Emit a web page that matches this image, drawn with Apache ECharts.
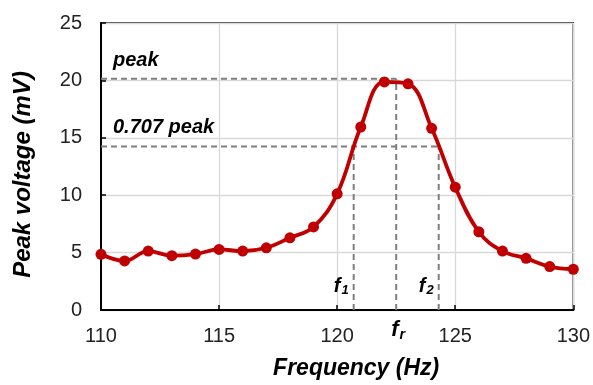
<!DOCTYPE html>
<html>
<head>
<meta charset="utf-8">
<script src="https://cdn.jsdelivr.net/npm/echarts@6/dist/echarts.min.js"></script>
<style>
  html, body { margin: 0; padding: 0; background: #fff; }
  #chart { width: 593px; height: 385px; }
</style>
</head>
<body>
<div id="chart"></div>
<script>
// measured frequency sweep
const freqs = [110, 111, 112, 113, 114, 115, 116, 117, 118, 119, 120,
               121, 122, 123, 124, 125, 126, 127, 128, 129, 130]
const volts = [4.85, 4.27, 5.13, 4.73, 4.87, 5.28, 5.13, 5.42, 6.29, 7.24, 10.12,
               15.94, 19.87, 19.70, 15.83, 10.70, 6.81, 5.13, 4.50, 3.78, 3.55]

// resonance markers
const peakV = 20.15
const halfV = 14.25   // 0.707 * peak
const fR = 122.5
const f1 = 120.7
const f2 = 124.3

const xMin = 110, xMax = 130
const yMin = 0, yMax = 25

const font = '"Liberation Sans", Arial, sans-serif'
const boldItalic = { fontFamily: font, fontWeight: 'bold', fontStyle: 'italic', color: '#000' }

const chart = echarts.init(document.getElementById('chart'), null, { renderer: 'canvas' })

function subLabel(main, sub, size) {
  return {
    show: true,
    formatter: `{m|${main}}{s|${sub}}`,
    rich: {
      m: { ...boldItalic, fontSize: size, lineHeight: size + 2 },
      s: { ...boldItalic, fontSize: size * 0.65, verticalAlign: 'bottom', padding: [size * 0.45, 0, 0, 1] },
    },
  }
}

// dashed guide drawn as a plain two-point line series
function guide(from, to) {
  return {
    type: 'line', data: [from, to], z: 1, silent: true,
    symbol: 'none', animation: false,
    lineStyle: { color: '#7f7f7f', width: 2, type: [6, 4] },
  }
}

chart.setOption({
  animation: false,
  backgroundColor: '#fff',
  grid: {
    left: 101, right: 18, top: 23, bottom: 73,
    show: true, borderColor: '#000', borderWidth: 1.5,
  },
  xAxis: {
    type: 'value', min: xMin, max: xMax, interval: 5,
    name: 'Frequency (Hz)', nameLocation: 'middle', nameGap: 47,
    nameTextStyle: { ...boldItalic, fontSize: 23, padding: [0, 0, 0, 38] },
    axisLine: { lineStyle: { color: '#000', width: 2 } },
    axisTick: { inside: true, length: 5, lineStyle: { color: '#000', width: 1.5 } },
    axisLabel: { fontFamily: font, fontSize: 20, color: '#222', margin: 16 },
    splitLine: { lineStyle: { color: '#d9d9d9', width: 1.3 } },
  },
  yAxis: {
    type: 'value', min: yMin, max: yMax, interval: 5,
    name: 'Peak voltage (mV)', nameLocation: 'middle', nameGap: 66, nameRotate: 90,
    nameTextStyle: { ...boldItalic, fontSize: 24, padding: [0, 16, 0, 0] },
    axisLine: { show: true, lineStyle: { color: '#000', width: 2 } },
    axisTick: { show: true, inside: true, length: 5, lineStyle: { color: '#000', width: 1.5 } },
    axisLabel: { fontFamily: font, fontSize: 20, color: '#222', margin: 19 },
    splitLine: { lineStyle: { color: '#d9d9d9', width: 1.3 } },
  },
  series: [
    guide([xMin, peakV], [fR, peakV]),
    guide([xMin, halfV], [f2, halfV]),
    guide([fR, yMin], [fR, peakV]),
    guide([f1, yMin], [f1, halfV]),
    guide([f2, yMin], [f2, halfV]),
    {
      name: 'labels', type: 'line', data: [], z: 2,
      markPoint: {
        silent: true, symbol: 'circle', symbolSize: 0, animation: false,
        data: [
          { coord: [xMin, peakV], label: { show: true, position: 'right', offset: [7, -18], formatter: 'peak', ...boldItalic, fontSize: 20 } },
          { coord: [xMin, halfV], label: { show: true, position: 'right', offset: [7, -19], formatter: '0.707 peak', ...boldItalic, fontSize: 20 } },
          { coord: [f1, yMin], label: { ...subLabel('f', '1', 20), position: 'left', offset: [0, -24] } },
          { coord: [f2, yMin], label: { ...subLabel('f', '2', 20), position: 'left', offset: [0, -24] } },
          { coord: [fR, yMin], label: { ...subLabel('f', 'r', 22), position: 'bottom', offset: [2, 3] } },
        ],
      },
    },
    {
      name: 'Peak voltage', type: 'line', z: 3,
      data: freqs.map((f, i) => [f, volts[i]]),
      smooth: 0.4,
      symbol: 'circle', symbolSize: 11,
      lineStyle: { color: '#c00000', width: 3.8 },
      itemStyle: { color: '#c00000' },
    },
  ],
})
</script>
</body>
</html>
